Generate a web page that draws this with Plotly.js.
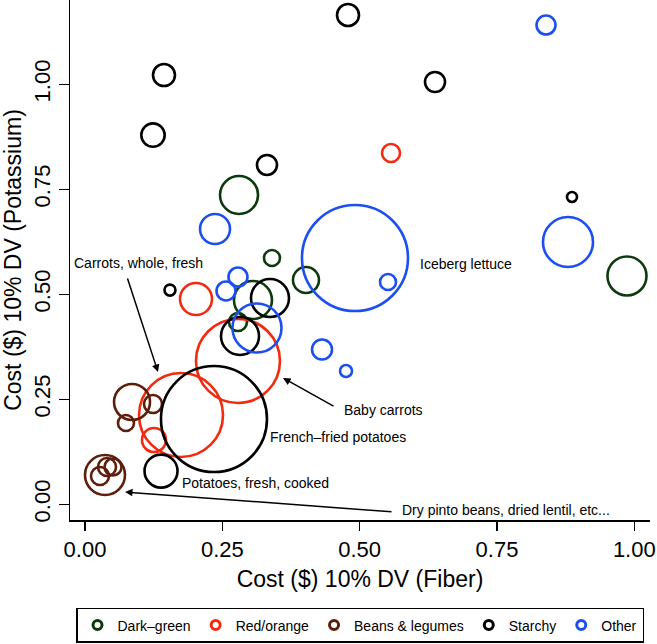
<!DOCTYPE html>
<html>
<head>
<meta charset="utf-8">
<script src="https://cdn.plot.ly/plotly-3.0.1.min.js"></script>
<style>html,body{margin:0;padding:0;background:#fff;}#chart{width:657px;height:644px;}</style>
</head>
<body>
<div id="chart"></div>
<script>
// Categories and colours
const categories = ["Dark–green", "Red/orange", "Beans & legumes", "Starchy", "Other"];
const colors = ["#0d3a0d", "#f22a10", "#5e1e0c", "#000000", "#1c4ff0"];

// x = Cost ($) 10% DV (Fiber), y = Cost ($) 10% DV (Potassium), size = bubble magnitude
const darkGreenX = [0.2804, 0.3404, 0.4023, 0.3058, 0.2785, 0.9867];
const darkGreenY = [0.7364, 0.5864, 0.5340, 0.4864, 0.4340, 0.5436];
const darkGreenSize = [19, 8, 13, 19, 9, 19.5];

const redX = [0.5571, 0.2021, 0.2785, 0.1748, 0.1256];
const redY = [0.8364, 0.4888, 0.3412, 0.2126, 0.1531];
const redSize = [9, 16, 42, 42, 12];

const beansX = [0.0856, 0.1238, 0.0746, 0.0364, 0.0273, 0.0401, 0.0510];
const beansY = [0.2436, 0.2388, 0.1936, 0.0698, 0.0674, 0.0888, 0.0888];
const beansSize = [18, 9, 8, 20, 9, 9, 8.5];

const starchyX = [0.1438, 0.1238, 0.3313, 0.4788, 0.6372, 0.8866, 0.1547, 0.3368, 0.2822, 0.2348, 0.1384];
const starchyY = [1.0220, 0.8790, 0.8080, 1.1650, 1.0055, 0.7317, 0.5100, 0.4910, 0.4007, 0.2030, 0.0790];
const starchySize = [11, 11.7, 10, 11, 10, 5, 5.5, 19, 19, 53, 16.5];

const otherX = [0.8393, 0.2367, 0.4915, 0.2785, 0.2567, 0.3131, 0.4315, 0.4752, 0.5516, 0.8793];
const otherY = [1.1410, 0.6555, 0.5864, 0.5412, 0.5079, 0.4198, 0.3686, 0.3174, 0.5293, 0.6245];
const otherSize = [9.5, 15, 53, 9.5, 9.5, 24.5, 10, 6, 8, 25];

const tickVals = [0, 0.25, 0.5, 0.75, 1.0];
const tickText = ["0.00", "0.25", "0.50", "0.75", "1.00"];

const seriesX = [darkGreenX, redX, beansX, starchyX, otherX];
const seriesY = [darkGreenY, redY, beansY, starchyY, otherY];
const seriesS = [darkGreenSize, redSize, beansSize, starchySize, otherSize];

const traces = [];
for (let i = 0; i < categories.length; i++) {
  traces.push({
    type: "scatter", mode: "markers", name: categories[i],
    x: seriesX[i], y: seriesY[i], showlegend: false, cliponaxis: false,
    marker: { symbol: "circle-open", size: seriesS[i].map(v => 2 * v), sizemode: "diameter", opacity: 1,
              color: colors[i], line: { width: 2.6, color: colors[i] } },
    hoverinfo: "skip"
  });
}
for (let i = 0; i < categories.length; i++) {
  traces.push({
    type: "scatter", mode: "markers", name: categories[i],
    x: [null], y: [null], showlegend: true,
    marker: { symbol: "circle-open", size: 9, opacity: 1, color: colors[i], line: { width: 3, color: colors[i] } }
  });
}

const fontFam = "Liberation Sans, Arial, Helvetica, sans-serif";
const annFont = { family: fontFam, size: 14, color: "black" };
function label(text, x, y, xanchor) {
  return { text: text, x: x, y: y, xref: "x", yref: "y", showarrow: false, xanchor: xanchor, yanchor: "middle", font: annFont };
}
function arrow(x, y, ax, ay) {
  return { text: "", x: x, y: y, ax: ax, ay: ay, xref: "x", yref: "y", axref: "x", ayref: "y",
           showarrow: true, arrowhead: 2, arrowsize: 1, arrowwidth: 1.5, arrowcolor: "black", standoff: 0, startstandoff: 0 };
}

const layout = {
  width: 657, height: 644,
  margin: { l: 70, r: 7, t: 0, b: 124 },
  paper_bgcolor: "white", plot_bgcolor: "white",
  font: { family: fontFam, color: "black" },
  showlegend: true,
  xaxis: {
    range: [-0.0273, 1.0286], tickvals: tickVals, ticktext: tickText,
    showgrid: false, zeroline: false, showline: true, linecolor: "black", linewidth: 1.5,
    ticks: "outside", ticklen: 9, tickwidth: 1.5, tickcolor: "black",
    tickfont: { size: 22 }, automargin: false,
    title: { text: "Cost ($) 10% DV (Fiber)", font: { size: 23 }, standoff: 10 }
  },
  yaxis: {
    range: [-0.0374, 1.2007], tickvals: tickVals, ticktext: tickText, tickangle: -90,
    showgrid: false, zeroline: false, showline: true, linecolor: "black", linewidth: 1.5,
    ticks: "outside", ticklen: 10, tickwidth: 1.5, tickcolor: "black",
    tickfont: { size: 22 }, automargin: false,
    title: { text: "Cost ($) 10% DV (Potassium)", font: { size: 23 }, standoff: 8 }
  },
  legend: {
    orientation: "h", x: 0.5, xanchor: "center", y: -0.1692, yanchor: "top",
    bordercolor: "black", borderwidth: 1.5, font: { size: 14 }, bgcolor: "white"
  },
  annotations: [
    label("Carrots, whole, fresh", 0.0983, 0.5745, "center"),
    label("Iceberg lettuce", 0.6062, 0.5721, "left"),
    label("Baby carrots", 0.4679, 0.2245, "left"),
    label("French–fried potatoes", 0.3332, 0.1602, "left"),
    label("Potatoes, fresh, cooked", 0.1729, 0.0507, "left"),
    label("Dry pinto beans, dried lentil, etc...", 0.5735, -0.0136, "left"),
    arrow(0.1329, 0.3150, 0.0765, 0.5412),
    arrow(0.3605, 0.3007, 0.4551, 0.2317),
    arrow(0.0728, 0.0293, 0.5607, -0.0183)
  ]
};

Plotly.newPlot("chart", traces, layout, { displayModeBar: false, staticPlot: true });
</script>
</body>
</html>
